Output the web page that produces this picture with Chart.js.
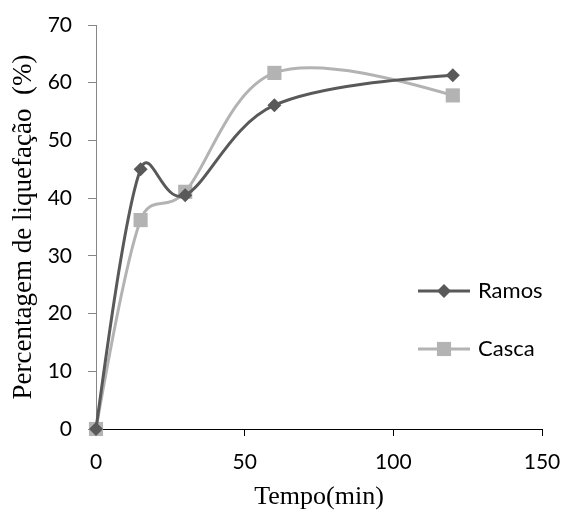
<!DOCTYPE html>
<html>
<head>
<meta charset="utf-8">
<script src="https://cdn.jsdelivr.net/npm/chart.js@4"></script>
<style>
  html, body { margin: 0; padding: 0; background: #fff; }
  #box { width: 563px; height: 513px; }
</style>
</head>
<body>
<div id="box"><canvas id="grafico"></canvas></div>
<script>
// dados
const tempos = [0, 15, 30, 60, 120];
const ramos = [0, 45, 40.5, 56.1, 61.3];
const casca = [0, 36.2, 41.1, 61.7, 57.8];
const ticksX = [0, 50, 100, 150];
const ticksY = [0, 10, 20, 30, 40, 50, 60, 70];

function pontos(ys) {
  return tempos.map((t, i) => ({ x: t, y: ys[i] }));
}

// suavização parecida com a do Excel (tangente uniforme, limitada pelo segmento)
const suaviza = {
  id: "suaviza",
  beforeDatasetDraw(chart, args) {
    const line = args.meta.dataset;
    const pts = args.meta.data;
    line.updateControlPoints(chart.chartArea, "x");
    const n = pts.length;
    const dist = (a, b) => Math.hypot(b.x - a.x, b.y - a.y);
    for (let i = 1; i < n - 1; i++) {
      const p = pts[i];
      const a = pts[i - 1], b = pts[i + 1];
      const vx = b.x - a.x, vy = b.y - a.y;
      const L = Math.hypot(vx, vy) || 1;
      const lenIn = Math.min(L / 6, dist(a, p) * 0.55);
      const lenOut = Math.min(L / 6, dist(p, b) * 0.55);
      p.cp1x = p.x - vx / L * lenIn;
      p.cp1y = p.y - vy / L * lenIn;
      p.cp2x = p.x + vx / L * lenOut;
      p.cp2y = p.y + vy / L * lenOut;
    }
    // pontas: controle na direção do vizinho
    const f = pts[0], s = pts[1];
    f.cp2x = f.x + (s.cp1x - f.x) / 3;
    f.cp2y = f.y + (s.cp1y - f.y) / 3;
    const l = pts[n - 1], m = pts[n - 2];
    l.cp1x = l.x + (m.cp2x - l.x) / 3;
    l.cp1y = l.y + (m.cp2y - l.y) / 3;
  }
};

// legenda desenhada dentro da área do gráfico
const legendaInterna = {
  id: "legendaInterna",
  afterDraw(chart) {
    const ctx = chart.ctx;
    const area = chart.chartArea;
    const x0 = area.right - 124;
    const ys = [area.top + 266, area.top + 324];
    chart.data.datasets.forEach((ds, i) => {
      const y = ys[i];
      ctx.save();
      ctx.strokeStyle = ds.borderColor;
      ctx.lineWidth = 3;
      ctx.beginPath();
      ctx.moveTo(x0, y);
      ctx.lineTo(x0 + 52, y);
      ctx.stroke();
      ctx.fillStyle = ds.backgroundColor;
      Chart.helpers.drawPoint(ctx, {
        pointStyle: ds.pointStyle,
        radius: ds.pointRadius,
        borderWidth: 0
      }, x0 + 26, y);
      ctx.fillStyle = "#000";
      ctx.font = "22px Lato";
      ctx.textBaseline = "middle";
      ctx.textAlign = "left";
      ctx.fillText(ds.label, x0 + 60, y);
      ctx.restore();
    });
  }
};

new Chart(document.getElementById("grafico"), {
  type: "line",
  data: {
    datasets: [
      {
        label: "Ramos",
        data: pontos(ramos),
        borderColor: "#595959",
        backgroundColor: "#595959",
        borderWidth: 3,
        pointStyle: "rectRot",
        pointRadius: 7,
        pointBorderWidth: 0,
        tension: 0.4,
        clip: false
      },
      {
        label: "Casca",
        data: pontos(casca),
        borderColor: "#b3b3b3",
        backgroundColor: "#b3b3b3",
        borderWidth: 3,
        pointStyle: "rect",
        pointRadius: 10,
        pointBorderWidth: 0,
        tension: 0.4,
        clip: false
      }
    ]
  },
  options: {
    responsive: true,
    maintainAspectRatio: false,
    animation: false,
    layout: { padding: { top: 25, right: 21, left: 0, bottom: 0 } },
    plugins: {
      legend: { display: false },
      tooltip: { enabled: false }
    },
    scales: {
      x: {
        type: "linear",
        min: 0,
        max: 150,
        afterBuildTicks: (s) => { s.ticks = ticksX.map((v) => ({ value: v })); },
        afterFit: (s) => { s.height = 84; s.paddingRight = 0; s.paddingLeft = 0; },
        border: { display: true, color: "#000", width: 1 },
        grid: { drawOnChartArea: false, drawTicks: true, tickLength: 7, color: "#000" },
        ticks: { color: "#000", font: { family: "Lato", size: 21 }, padding: 14 },
        title: {
          display: true,
          text: "Tempo(min)",
          color: "#000",
          font: { family: "Liberation Serif", size: 26 },
          padding: { top: 0, bottom: 0 }
        }
      },
      y: {
        min: 0,
        max: 70,
        afterBuildTicks: (s) => { s.ticks = ticksY.map((v) => ({ value: v })); },
        afterFit: (s) => { s.width = 96; s.paddingTop = 0; s.paddingBottom = 0; },
        border: { display: true, color: "#868686", width: 1 },
        grid: { drawOnChartArea: false, drawTicks: true, tickLength: 8, color: "#868686" },
        ticks: { color: "#000", font: { family: "Lato", size: 21 }, padding: 16 },
        title: {
          display: true,
          text: "Percentagem de liquefação  (%)",
          color: "#000",
          font: { family: "Liberation Serif", size: 27 },
          padding: { top: 8, bottom: 0 }
        }
      }
    }
  },
  plugins: [suaviza, legendaInterna]
});
</script>
</body>
</html>
